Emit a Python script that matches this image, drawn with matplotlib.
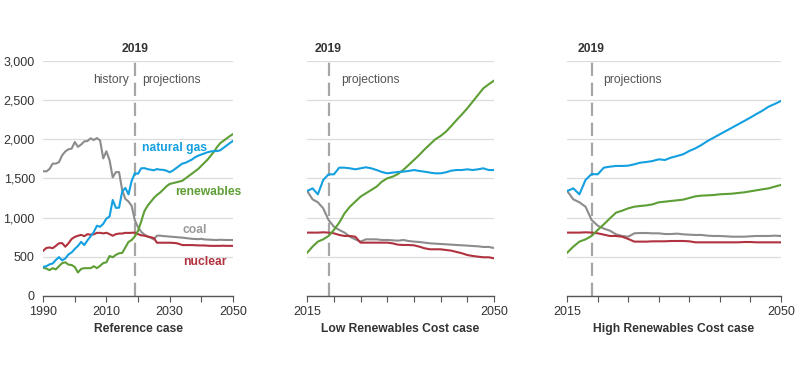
import numpy as np
import matplotlib
matplotlib.use("Agg")
import matplotlib.pyplot as plt
import matplotlib.transforms as mtransforms

plt.rcParams['font.family'] = ['Liberation Sans', 'DejaVu Sans']

## Reference case, 1990-2050
years_ref = list(range(1990, 2051))
coal_ref = [1594, 1590, 1621, 1690, 1690, 1709, 1796, 1845, 1873, 1881, 1966, 1904, 1933, 1974, 1978, 2013, 1991, 2016, 1986, 1756,
            1847, 1733, 1514, 1581, 1582, 1352, 1239, 1206, 1149, 966, 880, 820, 785, 760, 745, 722, 770, 770, 765, 762,
            758, 755, 752, 748, 745, 740, 735, 730, 728, 725, 730, 722, 720, 718, 716, 714, 718, 716, 715, 715, 714]
gas_ref = [372, 380, 404, 415, 460, 496, 455, 479, 531, 556, 601, 639, 691, 650, 710, 761, 816, 897, 883, 921,
           988, 1014, 1226, 1125, 1127, 1335, 1379, 1297, 1470, 1566, 1560, 1630, 1632, 1620, 1612, 1605, 1620, 1612, 1610, 1600,
           1580, 1600, 1630, 1660, 1690, 1700, 1720, 1740, 1770, 1790, 1805, 1820, 1835, 1845, 1850, 1850, 1860, 1890, 1920, 1950, 1978]
ren_ref = [360, 350, 330, 355, 340, 380, 420, 430, 400, 395, 370, 300, 345, 355, 355, 355, 380, 355, 385, 420,
           430, 510, 495, 525, 545, 550, 620, 690, 715, 760, 830, 950, 1080, 1150, 1200, 1250, 1290, 1320, 1360, 1400,
           1430, 1440, 1450, 1460, 1470, 1500, 1530, 1560, 1590, 1620, 1660, 1700, 1740, 1790, 1840, 1900, 1950, 1980, 2010, 2040, 2065]
nuc_ref = [577, 613, 619, 610, 640, 673, 675, 629, 673, 728, 754, 769, 780, 764, 789, 782, 787, 806, 806, 799,
           807, 790, 769, 789, 797, 797, 806, 805, 807, 809, 790, 775, 770, 760, 750, 740, 680, 680, 680, 680,
           680, 678, 675, 665, 650, 650, 650, 650, 648, 646, 645, 645, 642, 640, 640, 640, 640, 642, 640, 640, 640]

## Low Renewables Cost case, 2015-2050
years_case = list(range(2015, 2051))
gas_low = [1340, 1374, 1298, 1481, 1553, 1553, 1638, 1638, 1630, 1617, 1630, 1643, 1630, 1608, 1583, 1566, 1575, 1583, 1587, 1596,
           1608, 1596, 1587, 1575, 1566, 1566, 1579, 1600, 1608, 1608, 1617, 1608, 1617, 1630, 1608, 1608]
ren_low = [553, 630, 694, 723, 766, 843, 936, 1055, 1140, 1204, 1268, 1311, 1353, 1396, 1460, 1502, 1523, 1557, 1609, 1672,
           1736, 1800, 1872, 1936, 2000, 2043, 2098, 2170, 2247, 2319, 2396, 2481, 2566, 2651, 2702, 2749]
coal_low = [1340, 1234, 1196, 1119, 970, 885, 843, 809, 757, 723, 694, 723, 723, 723, 715, 715, 711, 706, 715, 702,
            694, 689, 681, 672, 668, 664, 660, 655, 651, 647, 643, 638, 634, 626, 626, 613]
nuc_low = [809, 809, 809, 813, 809, 800, 779, 766, 766, 757, 681, 681, 681, 681, 681, 681, 672, 655, 651, 651,
           647, 630, 609, 596, 596, 596, 587, 579, 562, 545, 523, 511, 502, 494, 494, 481]

## High Renewables Cost case, 2015-2050
gas_high = [1340, 1374, 1298, 1481, 1557, 1553, 1638, 1651, 1660, 1660, 1664, 1681, 1702, 1711, 1723, 1745, 1736, 1766, 1787, 1809,
            1851, 1885, 1928, 1979, 2021, 2064, 2106, 2149, 2191, 2234, 2277, 2323, 2366, 2417, 2451, 2489]
ren_high = [553, 630, 694, 723, 766, 843, 915, 991, 1064, 1089, 1119, 1140, 1149, 1157, 1170, 1196, 1204, 1213, 1221, 1230,
            1251, 1272, 1281, 1285, 1289, 1298, 1302, 1306, 1315, 1323, 1336, 1349, 1362, 1374, 1396, 1417]
coal_high = [1340, 1234, 1196, 1140, 970, 898, 860, 834, 787, 766, 757, 800, 804, 804, 800, 800, 791, 791, 796, 787,
             783, 779, 779, 770, 766, 766, 762, 757, 757, 757, 762, 766, 766, 766, 770, 766]
nuc_high = [809, 809, 809, 813, 809, 800, 783, 766, 766, 757, 728, 694, 694, 694, 698, 698, 698, 702, 702, 702,
            698, 685, 685, 685, 685, 685, 685, 685, 685, 689, 689, 685, 685, 685, 685, 685]

c_gas = '#14a0e0'
c_ren = '#5d9e35'
c_coal = '#8c8c8c'
c_nuc = '#b0323f'
c_text = '#333333'
fs = 8.7

fig = plt.figure(figsize=(8, 3.71), dpi=100)
ax1 = fig.add_axes([0.054, 0.2022, 0.237, 0.6334])
ax2 = fig.add_axes([0.384, 0.2022, 0.2335, 0.6334])
ax3 = fig.add_axes([0.709, 0.2022, 0.267, 0.6334])


def style(ax, x0, x1, xlabel):
    ax.set_xlim(x0, x1)
    ax.set_ylim(0, 3000)
    ax.set_yticks(range(0, 3001, 500))
    ax.grid(axis='y', color='#dcdcdc', linewidth=0.9)
    ax.set_axisbelow(True)
    for s in ['top', 'right', 'left']:
        ax.spines[s].set_visible(False)
    ax.spines['bottom'].set_color('#555555')
    ax.spines['bottom'].set_linewidth(1.0)
    ax.tick_params(axis='y', length=0, labelsize=fs + 0.3, colors=c_text, pad=6)
    ax.tick_params(axis='x', which='both', length=4, color='#555555', labelsize=fs + 0.3,
                   labelcolor=c_text, pad=3)
    ax.set_xlabel(xlabel, fontsize=fs, fontweight='bold', color=c_text, labelpad=4)
    ax.axvline(2019, color='#a6a6a6', linestyle=(0, (6, 3)), linewidth=1.6, zorder=1)
    trans = mtransforms.blended_transform_factory(ax.transData, ax.transAxes)
    ax.text(2019, 1.037, '2019', transform=trans, ha='center', va='baseline',
            fontsize=fs, fontweight='bold', color=c_text)


def lines(ax, x, gas, ren, coal, nuc):
    ax.plot(x, coal, color=c_coal, linewidth=1.5, zorder=3)
    ax.plot(x, nuc, color=c_nuc, linewidth=1.5, zorder=3)
    ax.plot(x, ren, color=c_ren, linewidth=1.5, zorder=4)
    ax.plot(x, gas, color=c_gas, linewidth=1.5, zorder=4)


# panel 1
lines(ax1, years_ref, gas_ref, ren_ref, coal_ref, nuc_ref)
style(ax1, 1990, 2050, 'Reference case')
ax1.set_xticks(range(1990, 2051, 10))
ax1.set_xticklabels(['1990', '', '2010', '', '2030', '', '2050'])
ax1.set_yticklabels(['0', '500', '1,000', '1,500', '2,000', '2,500', '3,000'])
ax1.text(2017.25, 2720, 'history', ha='right', va='baseline', fontsize=fs, color='#555555')
ax1.text(2021.4, 2720, 'projections', ha='left', va='baseline', fontsize=fs, color='#555555')
ax1.text(2021.2, 1855, 'natural gas', ha='left', va='baseline', fontsize=fs, fontweight='bold', color=c_gas)
ax1.text(2031.9, 1289, 'renewables', ha='left', va='baseline', fontsize=fs, fontweight='bold', color=c_ren)
ax1.text(2034.0, 808, 'coal', ha='left', va='baseline', fontsize=fs, fontweight='bold', color='#9a9a9a')
ax1.text(2034.3, 396, 'nuclear', ha='left', va='baseline', fontsize=fs, fontweight='bold', color=c_nuc)

# panel 2
lines(ax2, years_case, gas_low, ren_low, coal_low, nuc_low)
style(ax2, 2015, 2050, 'Low Renewables Cost case')
ax2.set_xticks(range(2015, 2051, 5))
ax2.set_xticklabels(['2015', '', '', '', '', '', '', '2050'])
ax2.set_yticklabels([])
ax2.text(2021.4, 2720, 'projections', ha='left', va='baseline', fontsize=fs, color='#555555')

# panel 3
lines(ax3, years_case, gas_high, ren_high, coal_high, nuc_high)
style(ax3, 2015, 2050, 'High Renewables Cost case')
ax3.set_xticks(range(2015, 2051, 5))
ax3.set_xticklabels(['2015', '', '', '', '', '', '', '2050'])
ax3.set_yticklabels([])
ax3.text(2020.9, 2720, 'projections', ha='left', va='baseline', fontsize=fs, color='#555555')

fig.savefig('out.png', dpi=100, facecolor='white')
